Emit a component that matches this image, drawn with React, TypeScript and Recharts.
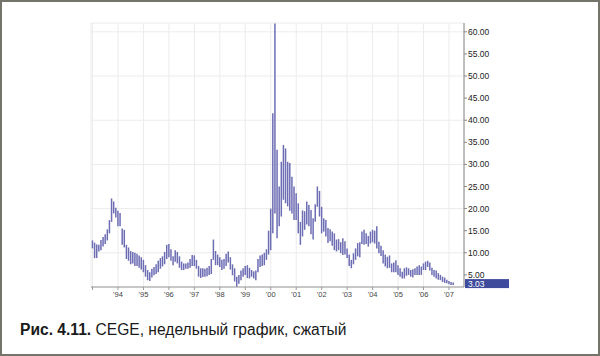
import { ComposedChart, Bar, XAxis, YAxis, CartesianGrid, ReferenceLine } from 'recharts';

// monthly high/low ranges, 1993 .. Mar 2007
const years = [1993, 1994, 1995, 1996, 1997, 1998, 1999, 2000, 2001, 2002, 2003, 2004, 2005, 2006, 2007];

const highs: number[][] = [
  [12.8, 12.3, 11.9, 11.8, 12.9, 13.6, 14.2, 15.3, 17.4, 22.3, 21.6, 20.2],
  [19.5, 19.0, 15.5, 15.2, 11.8, 11.2, 10.4, 10.2, 10.0, 9.8, 9.4, 9.0],
  [8.4, 7.2, 6.1, 5.6, 6.4, 6.8, 7.4, 8.2, 8.8, 9.2, 10.2, 11.8],
  [12.0, 10.8, 9.2, 10.6, 10.2, 9.2, 8.0, 7.6, 7.6, 7.8, 8.6, 9.5],
  [9.4, 8.4, 7.0, 6.5, 6.5, 6.4, 6.6, 7.0, 8.6, 13.0, 10.4, 9.6],
  [9.0, 8.4, 8.6, 9.8, 10.3, 9.0, 7.4, 6.5, 4.6, 5.0, 6.0, 6.5],
  [7.0, 7.2, 6.6, 6.1, 5.8, 6.0, 8.6, 9.4, 9.6, 10.0, 10.8, 15.0],
  [20.0, 41.6, 61.9, 33.3, 25.0, 30.6, 34.4, 33.6, 30.6, 30.3, 27.2, 25.0],
  [23.5, 21.2, 17.0, 19.6, 19.4, 21.6, 20.8, 19.7, 17.8, 21.0, 25.0, 24.0],
  [20.4, 17.8, 17.4, 15.6, 15.3, 14.8, 14.4, 13.0, 13.1, 12.4, 13.3, 12.6],
  [11.0, 9.6, 8.4, 9.9, 11.0, 12.2, 12.4, 14.8, 15.2, 14.4, 13.8, 14.8],
  [15.2, 15.0, 16.0, 12.5, 11.6, 10.6, 9.6, 9.1, 9.4, 7.6, 7.8, 8.3],
  [7.2, 6.5, 5.7, 6.5, 6.7, 6.5, 6.1, 6.3, 6.5, 6.9, 7.2, 6.9],
  [7.6, 8.0, 8.2, 7.8, 6.6, 6.1, 6.0, 5.4, 5.0, 4.6, 4.4, 3.9],
  [3.6, 3.4, 3.3],
];

const lows: number[][] = [
  [11.0, 8.8, 8.8, 10.3, 10.6, 11.4, 12.0, 12.8, 14.4, 17.0, 18.9, 18.0],
  [16.0, 16.0, 11.8, 11.2, 8.6, 8.2, 7.4, 7.6, 7.0, 7.0, 6.6, 6.2],
  [5.6, 4.6, 3.8, 3.6, 4.4, 4.9, 5.2, 5.6, 6.4, 6.9, 7.4, 8.6],
  [9.0, 8.2, 7.2, 8.0, 7.6, 6.6, 6.1, 6.1, 6.4, 6.4, 6.6, 7.0],
  [7.0, 6.4, 4.6, 4.3, 4.5, 4.6, 4.7, 5.0, 5.2, 8.4, 7.2, 7.2],
  [6.8, 6.1, 6.4, 7.0, 7.8, 6.2, 4.9, 3.5, 2.3, 3.0, 3.8, 4.6],
  [5.0, 4.3, 4.2, 4.6, 4.2, 3.8, 5.6, 6.8, 7.0, 7.2, 8.4, 9.6],
  [10.6, 14.4, 18.9, 13.3, 16.0, 18.2, 22.0, 21.2, 20.5, 19.5, 18.9, 17.4],
  [17.4, 14.4, 11.8, 13.7, 15.2, 16.4, 16.0, 14.2, 13.0, 17.0, 20.4, 18.2],
  [14.4, 14.8, 13.7, 12.2, 12.6, 11.6, 10.6, 10.3, 10.6, 9.9, 9.5, 9.6],
  [8.8, 7.0, 6.5, 7.4, 8.4, 9.2, 9.0, 12.0, 11.8, 12.0, 11.4, 12.1],
  [12.4, 12.1, 11.0, 9.9, 9.3, 7.6, 6.9, 6.5, 6.6, 5.6, 5.6, 5.6],
  [5.0, 4.6, 4.2, 4.2, 4.8, 5.0, 4.6, 4.4, 5.0, 5.0, 5.0, 5.0],
  [6.1, 6.1, 6.8, 6.0, 5.0, 4.6, 4.2, 3.9, 3.8, 3.4, 3.2, 3.1],
  [2.9, 2.7, 2.7],
];

const lastPrice = 3.03;
const priceTicks = [5, 10, 15, 20, 25, 30, 35, 40, 45, 50, 55, 60];
const yearTicks = years;

const data = years.flatMap((y, i) =>
  highs[i].map((h, m) => ({ t: y + m / 12, range: [lows[i][m], h] })),
);

const FONT = 'Liberation Sans, Arial, sans-serif';
const BAR_COLOR = '#6d6db4';

// a plain vertical stroke from low to high, so every bar keeps the same tone
function RangeStick(props: any) {
  const { x, y, width, height } = props;
  if (height == null || isNaN(y)) return null;
  const cx = x + width / 2;
  return <line x1={cx} x2={cx} y1={y} y2={y + height} stroke={BAR_COLOR} strokeWidth={1.5} />;
}

function LastLabel({ viewBox }: { viewBox?: { x: number; y: number; width: number } }) {
  if (!viewBox) return null;
  const x = viewBox.x + viewBox.width + 1;
  const y = viewBox.y;
  return (
    <g>
      <rect x={x} y={y - 4.5} width={44} height={9} fill="#3e4b9c" />
      <text x={x + 3} y={y + 3.2} fill="#fff" fontSize={8.5} fontFamily={FONT}>
        {lastPrice.toFixed(2)}
      </text>
    </g>
  );
}

export default function App() {
  return (
    <div style={{ position: 'absolute', left: 0, top: 0, width: 600, height: 356, background: '#fff', overflow: 'hidden' }}>
      <ComposedChart
        width={600}
        height={356}
        data={data}
        margin={{ top: 23, right: 96, left: 91, bottom: 49 }}
        style={{ position: 'absolute', left: 0, top: 0 }}
      >
        <CartesianGrid stroke="#ececec" />
        <XAxis
          dataKey="t"
          type="number"
          domain={[1992.94, 2007.59]}
          ticks={yearTicks}
          tickFormatter={(v: number) => (v === 1993 ? '' : "'" + String(v).slice(2))}
          tick={{ fill: '#444', fontSize: 7.5, fontFamily: FONT }}
          stroke="#999"
          tickSize={3}
          height={20}
          allowDataOverflow
        />
        <YAxis
          orientation="right"
          type="number"
          domain={[2.26, 62]}
          ticks={priceTicks}
          tickFormatter={(v: number) => v.toFixed(2)}
          tick={{ fill: '#222', fontSize: 8.5, fontFamily: FONT }}
          stroke="#888"
          tickSize={3}
          tickMargin={1}
          width={40}
          allowDataOverflow
        />
        <Bar dataKey="range" fill={BAR_COLOR} barSize={2} shape={<RangeStick />} isAnimationActive={false} />
        <ReferenceLine y={lastPrice} strokeOpacity={0} label={<LastLabel />} />
      </ComposedChart>
      <div
        style={{
          position: 'absolute',
          left: 20,
          top: 322,
          fontFamily: FONT,
          fontSize: 15.6,
          lineHeight: '16px',
          color: '#1a1a1a',
          whiteSpace: 'nowrap',
        }}
      >
        <b>Рис. 4.11.</b> CEGE, недельный график, сжатый
      </div>
      <div
        style={{
          position: 'absolute',
          left: 0,
          top: 0,
          width: 600,
          height: 356,
          boxSizing: 'border-box',
          border: '2px solid #74746a',
          pointerEvents: 'none',
        }}
      />
    </div>
  );
}
